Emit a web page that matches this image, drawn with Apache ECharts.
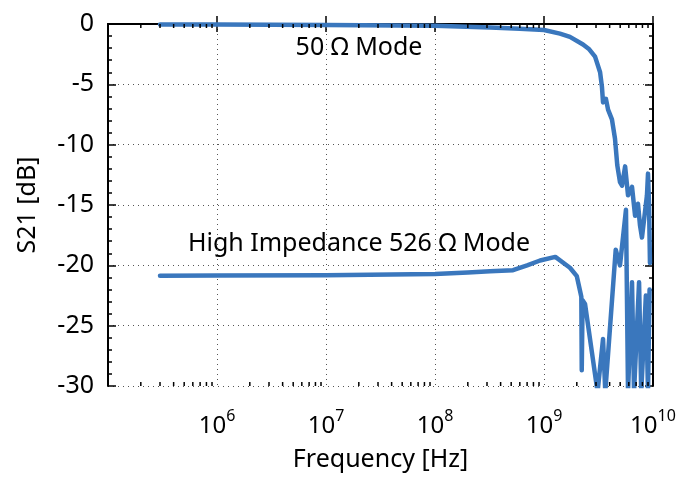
<!DOCTYPE html>
<html>
<head>
<meta charset="utf-8">
<script src="https://cdn.jsdelivr.net/npm/echarts@6/dist/echarts.min.js"></script>
<style>html,body{margin:0;padding:0;background:#fff}#main{width:683px;height:477px}</style>
</head>
<body>
<div id="main"></div>
<script>
// 50 ohm mode trace
var freq50 = [3e5, 1e6, 1e7, 1e8, 3.2e8, 6e8, 1e9, 1.4e9, 1.73e9, 2.28e9, 2.6e9, 2.94e9, 3.27e9, 3.4e9, 3.48e9, 3.6e9, 3.7e9, 3.87e9,
  4.2e9, 4.48e9, 4.7e9, 4.98e9, 5.2e9, 5.55e9, 5.9e9, 6.42e9, 6.85e9, 7.28e9, 7.6e9, 7.92e9, 8.8e9, 9.0e9, 9.2e9, 9.38e9];
var s21_50 = [-0.05, -0.05, -0.08, -0.15, -0.3, -0.4, -0.5, -0.8, -1.07, -1.7, -2.1, -2.7, -4.0, -5.2, -6.5, -6.4, -6.2, -7.1,
  -7.9, -9.5, -11.7, -13.1, -13.4, -11.8, -14.2, -13.5, -15.9, -14.9, -16.7, -17.7, -14.2, -12.4, -15.0, -19.8];

// high impedance 526 ohm mode trace
var freqHi = [3e5, 1e6, 1e7, 1e8, 2e8, 3.2e8, 5.2e8, 7e8, 9.2e8, 1.27e9, 1.73e9, 2.0e9, 2.14e9, 2.2e9, 2.22e9, 2.26e9, 2.38e9,
  3.1e9, 3.48e9, 3.65e9, 4.55e9, 4.98e9, 5.65e9, 5.9e9, 6.42e9, 6.7e9, 7.45e9, 7.8e9, 8.6e9, 9.0e9, 9.3e9];
var s21Hi = [-20.87, -20.85, -20.83, -20.72, -20.6, -20.5, -20.4, -20.0, -19.6, -19.3, -20.2, -20.9, -22.1, -22.6, -28.7, -22.9, -23.2,
  -30.5, -26.1, -30.5, -18.7, -20.0, -15.4, -30.5, -21.4, -30.5, -21.4, -30.5, -22.5, -30.5, -22.0];

var xDecades = [1e5, 1e6, 1e7, 1e8, 1e9];
var minorMult = [2, 3, 4, 5, 6, 7, 8, 9];

function zip(a, b) { return a.map(function (v, i) { return [v, b[i]]; }); }

var minorTicks = [];
xDecades.forEach(function (d) { minorMult.forEach(function (m) { minorTicks.push([d * m, 0]); }); });

var lineColor = '#3a77bd';
var font = 'Noto Sans';

var chart = echarts.init(document.getElementById('main'));
var option = {
  animation: false,
  textStyle: { fontFamily: font, color: '#000' },
  grid: { left: 108, right: 30, top: 24, bottom: 88, containLabel: false },
  xAxis: [
    {
      type: 'log', logBase: 10, min: 1e5, max: 1e10, splitNumber: 5,
      name: 'Frequency [Hz]', nameLocation: 'middle', nameGap: 61,
      nameTextStyle: { fontSize: 25, color: '#000', fontFamily: font },
      axisLine: { lineStyle: { color: '#000', width: 2 } },
      axisTick: { inside: true, length: 8, lineStyle: { color: '#000', width: 1.5 } },
      minorTick: { show: false },
      axisLabel: {
        showMinLabel: false, margin: 22,
        formatter: function (v) { return '{b|10}{s|' + Math.round(Math.log10(v)) + '}'; },
        rich: {
          b: { fontSize: 24, fontFamily: font, color: '#000', lineHeight: 30, verticalAlign: 'bottom' },
          s: { fontSize: 16, fontFamily: font, color: '#000', lineHeight: 30, verticalAlign: 'top' }
        }
      },
      splitLine: { show: true, lineStyle: { color: '#555', type: [1, 4], width: 1 } }
    },
    {
      type: 'log', logBase: 10, min: 1e5, max: 1e10, splitNumber: 5, position: 'top',
      axisLine: { lineStyle: { color: '#000', width: 2 } },
      axisTick: { inside: true, length: 8, lineStyle: { color: '#000', width: 1.5 } },
      axisLabel: { show: false }, splitLine: { show: false }
    }
  ],
  yAxis: [
    {
      type: 'value', min: -30, max: 0, interval: 5,
      name: 'S21 [dB]', nameLocation: 'middle', nameGap: 68,
      nameTextStyle: { fontSize: 25, color: '#000', fontFamily: font },
      axisLine: { show: true, lineStyle: { color: '#000', width: 2 } },
      axisTick: { inside: true, length: 8, lineStyle: { color: '#000', width: 1.5 } },
      minorTick: { show: true, splitNumber: 5, length: 4, lineStyle: { color: '#000', width: 1.5 } },
      axisLabel: { fontSize: 25, color: '#000', margin: 14 },
      splitLine: { show: true, lineStyle: { color: '#555', type: [1, 4], width: 1 } }
    },
    {
      type: 'value', min: -30, max: 0, interval: 5, position: 'right',
      axisLine: { show: true, lineStyle: { color: '#000', width: 2 } },
      axisTick: { inside: true, length: 8, lineStyle: { color: '#000', width: 1.5 } },
      minorTick: { show: true, splitNumber: 5, length: 4, lineStyle: { color: '#000', width: 1.5 } },
      axisLabel: { show: false }, splitLine: { show: false }
    }
  ],
  graphic: [
    { type: 'text', x: 359, y: 48, style: { text: '50 Ω Mode', font: '25px "Noto Sans"', fill: '#000', align: 'center', verticalAlign: 'middle' } },
    { type: 'text', x: 359, y: 244, style: { text: 'High Impedance 526 Ω Mode', font: '25px "Noto Sans"', fill: '#000', align: 'center', verticalAlign: 'middle' } }
  ],
  series: [
    {
      type: 'custom', silent: true, clip: false, xAxisIndex: 0, yAxisIndex: 0, z: 5,
      data: minorTicks,
      renderItem: function (params, api) {
        var b = api.coord([api.value(0), -30]);
        var t = api.coord([api.value(0), 0]);
        var st = { stroke: '#000', lineWidth: 1.5 };
        return { type: 'group', children: [
          { type: 'line', shape: { x1: b[0], y1: b[1], x2: b[0], y2: b[1] - 4 }, style: st },
          { type: 'line', shape: { x1: t[0], y1: t[1], x2: t[0], y2: t[1] + 4 }, style: st }
        ] };
      }
    },
    {
      name: '50 Ω Mode', type: 'line', data: zip(freq50, s21_50), showSymbol: false, symbol: 'none',
      lineStyle: { color: lineColor, width: 4.5, cap: 'round', join: 'round' }, z: 3
    },
    {
      name: 'High Impedance 526 Ω Mode', type: 'line', data: zip(freqHi, s21Hi), showSymbol: false, symbol: 'none',
      lineStyle: { color: lineColor, width: 4.5, cap: 'round', join: 'round' }, z: 3
    }
  ]
};
chart.setOption(option);
</script>
</body>
</html>
